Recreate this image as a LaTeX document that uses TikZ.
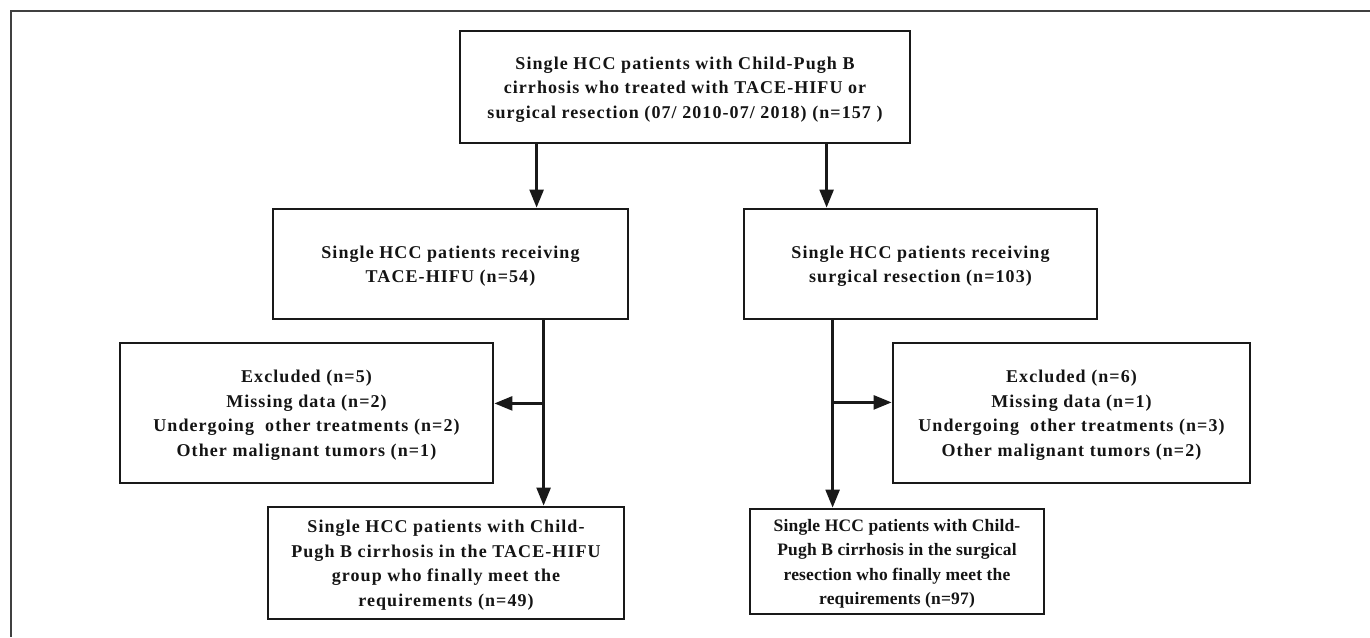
\documentclass[tikz,border=0pt]{standalone}
\usepackage{fontspec}
\newfontfamily\boxfont{Liberation Serif}[LetterSpace=6]
\newfontfamily\boxfontnarrow{Liberation Serif}[LetterSpace=1]
\usetikzlibrary{arrows.meta,calc}
\begin{document}
\begin{tikzpicture}[x=1pt,y=-1pt,
  box/.style={draw=black!90, line width=2.8pt, align=center, inner sep=0pt,
    font=\boxfont\bfseries\fontsize{18}{24.5}\selectfont, text=black!92},
  narrowbox/.style={box, font=\boxfontnarrow\bfseries\fontsize{17.5}{24.5}\selectfont},
  arr/.style={line width=2.5pt, draw=black!90, -{Triangle[length=18pt,width=14pt]}},
  frame/.style={line width=2pt, draw=black!75}]
\useasboundingbox (0,0) rectangle (1370,637);
\coordinate (fA) at (1370,11);
\coordinate (fB) at (11,11);
\coordinate (fC) at (11,637);
\draw[frame] (fA) -- (fB) -- (fC);

\node[box, minimum width=450pt, minimum height=112pt] (top) at (685,87)
  {\strut Single HCC patients with Child-Pugh B\\ cirrhosis who treated with TACE-HIFU or\\ surgical resection (07/ 2010-07/ 2018) (n=157 )};
\node[box, minimum width=355pt, minimum height=110pt] (ml) at (450.5,264)
  {\strut Single HCC patients receiving\\ TACE-HIFU (n=54)};
\node[box, minimum width=353pt, minimum height=110pt] (mr) at (920.5,264)
  {\strut Single HCC patients receiving\\ surgical resection (n=103)};
\node[box, minimum width=373pt, minimum height=140pt] (el) at (306.5,413)
  {\strut Excluded (n=5)\\ Missing data (n=2)\\ Undergoing~~other treatments (n=2)\\ Other malignant tumors (n=1)};
\node[box, minimum width=357pt, minimum height=140pt] (er) at (1071.5,413)
  {\strut Excluded (n=6)\\ Missing data (n=1)\\ Undergoing~~other treatments (n=3)\\ Other malignant tumors (n=2)};
\node[box, minimum width=356pt, minimum height=112pt] (bl) at (446,563)
  {\strut Single HCC patients with Child-\\ Pugh B cirrhosis in the TACE-HIFU\\ group who finally meet the\\ requirements (n=49)};
\node[narrowbox, minimum width=294pt, minimum height=105pt] (br) at (897,561.5)
  {\strut Single HCC patients with Child-\\ Pugh B cirrhosis in the surgical\\ resection who finally meet the\\ requirements (n=97)};

\path (top.south west) ++(78,0) coordinate (t1);
\path (top.south west) ++(368,0) coordinate (t2);
\draw[arr] (t1) -- (t1 |- ml.north);
\draw[arr] (t2) -- (t2 |- mr.north);

\path (ml.south west) ++(272,0) coordinate (l1);
\path (l1) ++(0,83) coordinate (l2);
\draw[arr] (l1) -- (l1 |- bl.north);
\draw[arr] (l2) -- (l2 -| el.east);

\path (mr.south west) ++(90,0) coordinate (r1);
\path (r1) ++(0,82) coordinate (r2);
\draw[arr] (r1) -- (r1 |- br.north);
\draw[arr] (r2) -- (r2 -| er.west);
\end{tikzpicture}
\end{document}
